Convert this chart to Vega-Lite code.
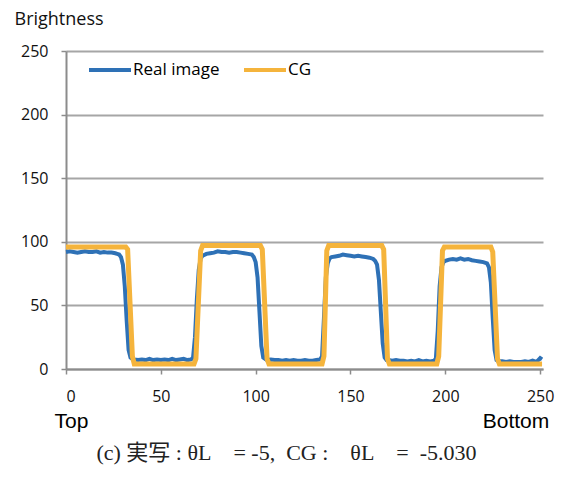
{
  "$schema": "https://vega.github.io/schema/vega-lite/v6.json",
  "autosize": "none",
  "width": 477,
  "height": 318,
  "padding": {"left": 66, "top": 51, "right": 22, "bottom": 110},
  "background": "white",
  "config": {"view": {"stroke": null}},
  "title": {
    "text": "(c) 実写 : θL\u2003= -5,\u2002CG :\u2003θL\u2003=\u2002-5.030",
    "orient": "bottom",
    "anchor": "middle",
    "frame": "group",
    "font": "Liberation Serif, Noto Sans CJK JP",
    "fontSize": 22,
    "fontWeight": "normal",
    "color": "#222222",
    "offset": 12,
    "dx": -18
  },
  "datasets": {
    "cg": [
      {"pos": 0, "brightness": 96, "series": "CG"},
      {"pos": 31.5, "brightness": 96, "series": "CG"},
      {"pos": 32.5, "brightness": 94, "series": "CG"},
      {"pos": 35, "brightness": 10, "series": "CG"},
      {"pos": 36, "brightness": 4, "series": "CG"},
      {"pos": 67.5, "brightness": 4, "series": "CG"},
      {"pos": 68.5, "brightness": 8, "series": "CG"},
      {"pos": 71, "brightness": 93, "series": "CG"},
      {"pos": 72, "brightness": 97, "series": "CG"},
      {"pos": 102.5, "brightness": 97, "series": "CG"},
      {"pos": 103.5, "brightness": 94, "series": "CG"},
      {"pos": 106, "brightness": 8, "series": "CG"},
      {"pos": 107, "brightness": 4, "series": "CG"},
      {"pos": 135, "brightness": 4, "series": "CG"},
      {"pos": 136, "brightness": 10, "series": "CG"},
      {"pos": 137.5, "brightness": 93, "series": "CG"},
      {"pos": 138.5, "brightness": 97, "series": "CG"},
      {"pos": 166.5, "brightness": 97, "series": "CG"},
      {"pos": 167.5, "brightness": 94, "series": "CG"},
      {"pos": 169.5, "brightness": 8, "series": "CG"},
      {"pos": 170.5, "brightness": 4, "series": "CG"},
      {"pos": 195.5, "brightness": 4, "series": "CG"},
      {"pos": 196.5, "brightness": 10, "series": "CG"},
      {"pos": 198.5, "brightness": 93, "series": "CG"},
      {"pos": 199.5, "brightness": 96, "series": "CG"},
      {"pos": 224, "brightness": 96, "series": "CG"},
      {"pos": 225, "brightness": 92, "series": "CG"},
      {"pos": 227.5, "brightness": 8, "series": "CG"},
      {"pos": 228.5, "brightness": 4, "series": "CG"},
      {"pos": 251, "brightness": 4, "series": "CG"}
    ],
    "real": [
      {"pos": 0, "brightness": 92, "series": "Real image"},
      {"pos": 2, "brightness": 92.5, "series": "Real image"},
      {"pos": 4, "brightness": 92, "series": "Real image"},
      {"pos": 6, "brightness": 91.5, "series": "Real image"},
      {"pos": 8, "brightness": 92, "series": "Real image"},
      {"pos": 10, "brightness": 92.5, "series": "Real image"},
      {"pos": 12, "brightness": 92, "series": "Real image"},
      {"pos": 14, "brightness": 92, "series": "Real image"},
      {"pos": 16, "brightness": 92.5, "series": "Real image"},
      {"pos": 18, "brightness": 91.5, "series": "Real image"},
      {"pos": 20, "brightness": 92, "series": "Real image"},
      {"pos": 22, "brightness": 91.5, "series": "Real image"},
      {"pos": 24, "brightness": 91.5, "series": "Real image"},
      {"pos": 26, "brightness": 91, "series": "Real image"},
      {"pos": 27, "brightness": 90.5, "series": "Real image"},
      {"pos": 28, "brightness": 90, "series": "Real image"},
      {"pos": 29, "brightness": 88, "series": "Real image"},
      {"pos": 30, "brightness": 82, "series": "Real image"},
      {"pos": 31, "brightness": 65, "series": "Real image"},
      {"pos": 32, "brightness": 38, "series": "Real image"},
      {"pos": 33, "brightness": 15, "series": "Real image"},
      {"pos": 34, "brightness": 9, "series": "Real image"},
      {"pos": 35, "brightness": 8, "series": "Real image"},
      {"pos": 36, "brightness": 7.5, "series": "Real image"},
      {"pos": 38, "brightness": 7, "series": "Real image"},
      {"pos": 40, "brightness": 7.5, "series": "Real image"},
      {"pos": 42, "brightness": 7, "series": "Real image"},
      {"pos": 44, "brightness": 8, "series": "Real image"},
      {"pos": 46, "brightness": 7, "series": "Real image"},
      {"pos": 48, "brightness": 7.5, "series": "Real image"},
      {"pos": 50, "brightness": 7, "series": "Real image"},
      {"pos": 52, "brightness": 7.5, "series": "Real image"},
      {"pos": 54, "brightness": 7, "series": "Real image"},
      {"pos": 56, "brightness": 8, "series": "Real image"},
      {"pos": 58, "brightness": 7, "series": "Real image"},
      {"pos": 60, "brightness": 7.5, "series": "Real image"},
      {"pos": 62, "brightness": 8, "series": "Real image"},
      {"pos": 64, "brightness": 7, "series": "Real image"},
      {"pos": 66, "brightness": 7.5, "series": "Real image"},
      {"pos": 67, "brightness": 9, "series": "Real image"},
      {"pos": 68, "brightness": 25, "series": "Real image"},
      {"pos": 69, "brightness": 55, "series": "Real image"},
      {"pos": 70, "brightness": 78, "series": "Real image"},
      {"pos": 71, "brightness": 87, "series": "Real image"},
      {"pos": 72, "brightness": 89, "series": "Real image"},
      {"pos": 74, "brightness": 90.5, "series": "Real image"},
      {"pos": 76, "brightness": 91, "series": "Real image"},
      {"pos": 78, "brightness": 91.5, "series": "Real image"},
      {"pos": 80, "brightness": 92.5, "series": "Real image"},
      {"pos": 82, "brightness": 92, "series": "Real image"},
      {"pos": 84, "brightness": 92, "series": "Real image"},
      {"pos": 86, "brightness": 91.5, "series": "Real image"},
      {"pos": 88, "brightness": 92, "series": "Real image"},
      {"pos": 90, "brightness": 92, "series": "Real image"},
      {"pos": 92, "brightness": 91.5, "series": "Real image"},
      {"pos": 94, "brightness": 91, "series": "Real image"},
      {"pos": 96, "brightness": 90.5, "series": "Real image"},
      {"pos": 98, "brightness": 90, "series": "Real image"},
      {"pos": 99, "brightness": 88, "series": "Real image"},
      {"pos": 100, "brightness": 84, "series": "Real image"},
      {"pos": 101, "brightness": 72, "series": "Real image"},
      {"pos": 102, "brightness": 45, "series": "Real image"},
      {"pos": 103, "brightness": 18, "series": "Real image"},
      {"pos": 104, "brightness": 9, "series": "Real image"},
      {"pos": 106, "brightness": 7, "series": "Real image"},
      {"pos": 108, "brightness": 7.5, "series": "Real image"},
      {"pos": 110, "brightness": 7, "series": "Real image"},
      {"pos": 112, "brightness": 7, "series": "Real image"},
      {"pos": 114, "brightness": 6.5, "series": "Real image"},
      {"pos": 116, "brightness": 7, "series": "Real image"},
      {"pos": 118, "brightness": 6.5, "series": "Real image"},
      {"pos": 120, "brightness": 7, "series": "Real image"},
      {"pos": 122, "brightness": 6.5, "series": "Real image"},
      {"pos": 124, "brightness": 6.5, "series": "Real image"},
      {"pos": 126, "brightness": 7, "series": "Real image"},
      {"pos": 128, "brightness": 6.5, "series": "Real image"},
      {"pos": 130, "brightness": 6.5, "series": "Real image"},
      {"pos": 132, "brightness": 7, "series": "Real image"},
      {"pos": 134, "brightness": 7.5, "series": "Real image"},
      {"pos": 135, "brightness": 10, "series": "Real image"},
      {"pos": 136, "brightness": 40, "series": "Real image"},
      {"pos": 137, "brightness": 72, "series": "Real image"},
      {"pos": 138, "brightness": 83, "series": "Real image"},
      {"pos": 139, "brightness": 87, "series": "Real image"},
      {"pos": 140, "brightness": 88, "series": "Real image"},
      {"pos": 142, "brightness": 88.5, "series": "Real image"},
      {"pos": 144, "brightness": 89, "series": "Real image"},
      {"pos": 146, "brightness": 90, "series": "Real image"},
      {"pos": 148, "brightness": 89.5, "series": "Real image"},
      {"pos": 150, "brightness": 89, "series": "Real image"},
      {"pos": 152, "brightness": 88.5, "series": "Real image"},
      {"pos": 154, "brightness": 89, "series": "Real image"},
      {"pos": 156, "brightness": 88.5, "series": "Real image"},
      {"pos": 158, "brightness": 88, "series": "Real image"},
      {"pos": 160, "brightness": 87.5, "series": "Real image"},
      {"pos": 162, "brightness": 86.5, "series": "Real image"},
      {"pos": 163, "brightness": 85, "series": "Real image"},
      {"pos": 164, "brightness": 82, "series": "Real image"},
      {"pos": 165, "brightness": 70, "series": "Real image"},
      {"pos": 166, "brightness": 45, "series": "Real image"},
      {"pos": 167, "brightness": 20, "series": "Real image"},
      {"pos": 168, "brightness": 9, "series": "Real image"},
      {"pos": 169, "brightness": 7, "series": "Real image"},
      {"pos": 170, "brightness": 7, "series": "Real image"},
      {"pos": 172, "brightness": 6.5, "series": "Real image"},
      {"pos": 174, "brightness": 7, "series": "Real image"},
      {"pos": 176, "brightness": 6.5, "series": "Real image"},
      {"pos": 178, "brightness": 6.5, "series": "Real image"},
      {"pos": 180, "brightness": 6, "series": "Real image"},
      {"pos": 182, "brightness": 6.5, "series": "Real image"},
      {"pos": 184, "brightness": 6, "series": "Real image"},
      {"pos": 186, "brightness": 7, "series": "Real image"},
      {"pos": 188, "brightness": 6, "series": "Real image"},
      {"pos": 190, "brightness": 6.5, "series": "Real image"},
      {"pos": 192, "brightness": 6, "series": "Real image"},
      {"pos": 194, "brightness": 6.5, "series": "Real image"},
      {"pos": 195, "brightness": 8, "series": "Real image"},
      {"pos": 196, "brightness": 30, "series": "Real image"},
      {"pos": 197, "brightness": 65, "series": "Real image"},
      {"pos": 198, "brightness": 80, "series": "Real image"},
      {"pos": 199, "brightness": 84, "series": "Real image"},
      {"pos": 200, "brightness": 85, "series": "Real image"},
      {"pos": 202, "brightness": 86, "series": "Real image"},
      {"pos": 204, "brightness": 86.5, "series": "Real image"},
      {"pos": 206, "brightness": 86, "series": "Real image"},
      {"pos": 208, "brightness": 87, "series": "Real image"},
      {"pos": 210, "brightness": 86, "series": "Real image"},
      {"pos": 212, "brightness": 86.5, "series": "Real image"},
      {"pos": 214, "brightness": 85.5, "series": "Real image"},
      {"pos": 216, "brightness": 85, "series": "Real image"},
      {"pos": 218, "brightness": 84.5, "series": "Real image"},
      {"pos": 220, "brightness": 84, "series": "Real image"},
      {"pos": 222, "brightness": 83, "series": "Real image"},
      {"pos": 223, "brightness": 80, "series": "Real image"},
      {"pos": 224, "brightness": 68, "series": "Real image"},
      {"pos": 225, "brightness": 40, "series": "Real image"},
      {"pos": 226, "brightness": 15, "series": "Real image"},
      {"pos": 227, "brightness": 7, "series": "Real image"},
      {"pos": 228, "brightness": 6, "series": "Real image"},
      {"pos": 230, "brightness": 6, "series": "Real image"},
      {"pos": 232, "brightness": 5.5, "series": "Real image"},
      {"pos": 234, "brightness": 6, "series": "Real image"},
      {"pos": 236, "brightness": 5.5, "series": "Real image"},
      {"pos": 238, "brightness": 5.5, "series": "Real image"},
      {"pos": 240, "brightness": 5.5, "series": "Real image"},
      {"pos": 242, "brightness": 6, "series": "Real image"},
      {"pos": 244, "brightness": 5.5, "series": "Real image"},
      {"pos": 246, "brightness": 6.5, "series": "Real image"},
      {"pos": 248, "brightness": 5.5, "series": "Real image"},
      {"pos": 249, "brightness": 7, "series": "Real image"},
      {"pos": 250, "brightness": 8.5, "series": "Real image"},
      {"pos": 251, "brightness": 7.5, "series": "Real image"}
    ]
  },
  "encoding": {
    "x": {
      "field": "pos",
      "type": "quantitative",
      "scale": {"domain": [0, 251.5], "nice": false, "zero": false},
      "axis": {
        "values": [0, 50, 100, 150, 200, 250],
        "grid": false,
        "domainColor": "#8c8c8c",
        "domainWidth": 2,
        "tickColor": "#8c8c8c",
        "tickWidth": 1.5,
        "tickSize": 5,
        "labelFont": "Open Sans",
        "labelFontSize": 16,
        "labelColor": "#111111",
        "labelPadding": 14,
        "title": "Top\u2003\u2003\u2003\u2003\u2003\u2003\u2003\u2003\u2003\u2003\u2003\u2003\u2003\u2003\u2003\u2003\u2003\u2003\u2002\u00a0Bottom",
        "titleFont": "Liberation Sans",
        "titleFontSize": 21,
        "titleFontWeight": "normal",
        "titleColor": "#000000",
        "titleAlign": "left",
        "titleAnchor": "start",
        "titleBaseline": "alphabetic",
        "titleX": -12,
        "titleY": 58
      }
    },
    "y": {
      "field": "brightness",
      "type": "quantitative",
      "scale": {"domain": [0, 250], "nice": false},
      "axis": {
        "values": [0, 50, 100, 150, 200, 250],
        "grid": true,
        "gridColor": "#a6a6a6",
        "gridWidth": 2,
        "domainColor": "#8c8c8c",
        "domainWidth": 2,
        "tickColor": "#8c8c8c",
        "tickWidth": 1.5,
        "tickSize": 5,
        "labelFont": "Open Sans",
        "labelFontSize": 16,
        "labelColor": "#111111",
        "labelPadding": 13,
        "title": "Brightness",
        "titleFont": "Open Sans",
        "titleFontSize": 18,
        "titleFontWeight": "normal",
        "titleColor": "#111111",
        "titleAngle": 0,
        "titleAlign": "left",
        "titleBaseline": "alphabetic",
        "titleX": -52,
        "titleY": -27
      }
    },
    "color": {
      "field": "series",
      "type": "nominal",
      "scale": {"domain": ["Real image", "CG"], "range": ["#2E71B6", "#F5B43C"]},
      "legend": {
        "orient": "none",
        "legendX": 21,
        "legendY": -4,
        "direction": "horizontal",
        "title": null,
        "symbolType": "stroke",
        "symbolSize": 1764,
        "symbolStrokeWidth": 4,
        "labelFont": "Open Sans",
        "labelFontSize": 17,
        "labelColor": "#000000",
        "labelOffset": 0,
        "columnPadding": 16
      }
    }
  },
  "layer": [
    {
      "data": {"name": "real"},
      "mark": {"type": "line", "strokeWidth": 4, "interpolate": "linear"}
    },
    {
      "data": {"name": "cg"},
      "mark": {"type": "line", "strokeWidth": 5, "interpolate": "linear"}
    }
  ]
}
